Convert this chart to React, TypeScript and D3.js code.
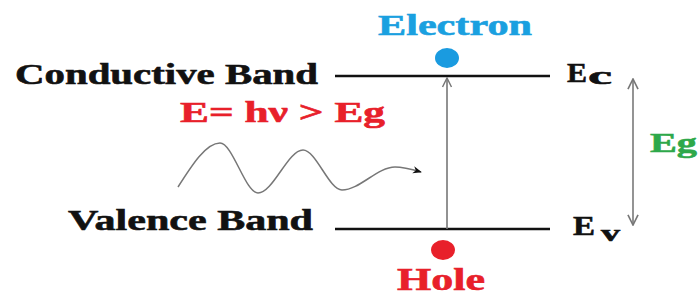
import React from 'react';
import * as d3 from 'd3';

// band levels (relative energy)
const bandNames = ['Conductive Band', 'Valence Band'];
const bandEnergies = [1, 0];
const bandSymbols = [['E', 'c'], ['E', 'v']];
const particleNames = ['Electron', 'Hole'];
const photonLabel = 'E= hν > Eg';
const gapLabel = 'Eg';
// photon wave crests/troughs: [x, y] in the diagram's pixel space
const wavePoints: [number, number][] = [
  [178, 187], [220, 143], [258, 193], [303, 150], [342, 190], [395, 167], [421, 172],
];

const W = 699;
const H = 297;
const serif = 'Liberation Serif, Times New Roman, Times, serif';

const App = () => {
  const y = d3.scaleLinear().domain([0, 1]).range([229, 76]);
  const x = d3.scaleLinear().domain([0, 1]).range([335, 550]);
  const xMid = 447;
  const waveLine = d3.line<[number, number]>().x(d => d[0]).y(d => d[1]).curve(d3.curveMonotoneX);
  const txt = (c: string) => ({ fontFamily: serif, fontWeight: 700, fill: c, stroke: c, strokeWidth: 0.6 }) as React.CSSProperties;

  return (
    <svg width={W} height={H} style={{ position: 'absolute', left: 0, top: 0, background: '#fff' }}>
      <defs>
        <marker id="gray" viewBox="0 0 10 10" refX="9" refY="5" markerWidth="7" markerHeight="7" orient="auto-start-reverse">
          <path d="M1,1 L9,5 L1,9" fill="none" stroke="#777" strokeWidth="1.3" />
        </marker>
        <marker id="blk" viewBox="0 0 10 10" refX="9" refY="5" markerWidth="6" markerHeight="6" orient="auto">
          <path d="M0,1 L10,5 L0,9 L3,5 Z" fill="#111" />
        </marker>
      </defs>

      {/* band lines */}
      {bandEnergies.map((e, i) => (
        <line key={i} x1={x(0)} x2={x(1)} y1={y(e)} y2={y(e)} stroke="#111" strokeWidth={2.5} />
      ))}

      {/* band names */}
      <text x={15} y={84} style={txt('#111')} fontSize={30}
        textLength={303} lengthAdjust="spacingAndGlyphs">{bandNames[0]}</text>
      <text x={68} y={230} style={txt('#111')} fontSize={30}
        textLength={245} lengthAdjust="spacingAndGlyphs">{bandNames[1]}</text>

      {/* band symbols */}
      <text x={567} y={82} style={txt('#111')} fontSize={28}>
        <tspan textLength={20} lengthAdjust="spacingAndGlyphs">{bandSymbols[0][0]}</tspan>
        <tspan x={588} y={84} fontSize={25} textLength={24} lengthAdjust="spacingAndGlyphs">{bandSymbols[0][1]}</tspan>
      </text>
      <text x={573} y={235} style={txt('#111')} fontSize={28}>
        <tspan textLength={22} lengthAdjust="spacingAndGlyphs">{bandSymbols[1][0]}</tspan>
        <tspan x={601} y={241} fontSize={24} textLength={19} lengthAdjust="spacingAndGlyphs">{bandSymbols[1][1]}</tspan>
      </text>

      {/* transition arrow */}
      <line x1={xMid} x2={xMid} y1={y(0)} y2={y(1) + 2} stroke="#777" strokeWidth={1.6} markerEnd="url(#gray)" />

      {/* gap arrow */}
      <line x1={633} x2={633} y1={y(1) + 3} y2={y(0) - 4} stroke="#888" strokeWidth={1.8}
        markerStart="url(#gray)" markerEnd="url(#gray)" />
      <text x={650} y={152} style={txt('#2ea84a')} fontSize={27}
        textLength={47} lengthAdjust="spacingAndGlyphs">{gapLabel}</text>

      {/* particles */}
      <ellipse cx={xMid} cy={58} rx={12} ry={10} fill="#1a9be0" />
      <text x={378} y={35} style={txt('#1aa0e0')} fontSize={30}
        textLength={154} lengthAdjust="spacingAndGlyphs">{particleNames[0]}</text>
      <ellipse cx={443} cy={250} rx={12} ry={10} fill="#e8202a" />
      <text x={397} y={290} style={txt('#e8202a')} fontSize={32}
        textLength={88} lengthAdjust="spacingAndGlyphs">{particleNames[1]}</text>

      {/* photon */}
      <text x={180} y={122} style={txt('#e8202a')} fontSize={30}
        textLength={205} lengthAdjust="spacingAndGlyphs">{photonLabel}</text>
      <path d={waveLine(wavePoints) ?? ''} fill="none" stroke="#777" strokeWidth={1.5} markerEnd="url(#blk)" />
    </svg>
  );
};

export default App;
